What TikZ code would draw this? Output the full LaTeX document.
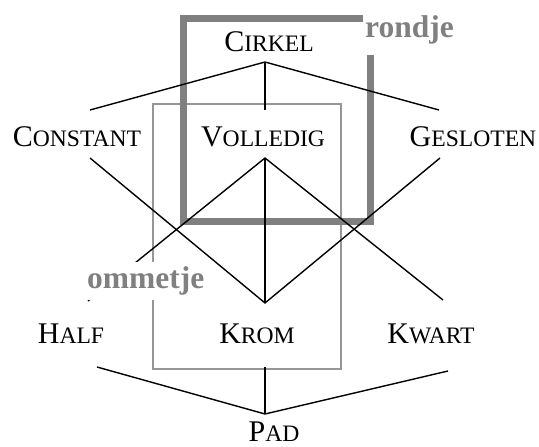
\documentclass[tikz,border=0pt]{standalone}
\usepackage{fontspec}
\setmainfont{Liberation Serif}
\definecolor{boxgray}{RGB}{128,128,128}
\definecolor{thingray}{RGB}{150,150,150}
\newcommand{\fakesc}[2]{{\fontsize{30}{30}\selectfont #1\fontsize{23.6}{23.6}\selectfont #2}}
\tikzset{
  word/.style={anchor=base, inner sep=0pt},
  link/.style={black, line width=1.4pt},
  lbl/.style={fill=white, text=boxgray, font=\fontsize{31.5}{31.5}\selectfont\bfseries, inner xsep=2pt, inner ysep=0pt, anchor=west},
  thickbox/.style={boxgray, line width=7pt},
  thinbox/.style={thingray, line width=2pt}
}
\begin{document}
\begin{tikzpicture}[x=1pt,y=-1pt]
\useasboundingbox (0,0) rectangle (539,447);
% words
\node[word] (cirkel) at (269,52) {\fakesc{C}{IRKEL}};
\node[word] (constant) at (77,146) {\fakesc{C}{ONSTANT}};
\node[word] (volledig) at (263,146) {\fakesc{V}{OLLEDIG}};
\node[word] (gesloten) at (473,146) {\fakesc{G}{ESLOTEN}};
\node[word] (half) at (71,343) {\fakesc{H}{ALF}};
\node[word] (krom) at (257,343) {\fakesc{K}{ROM}};
\node[word] (kwart) at (431,343) {\fakesc{K}{WART}};
\node[word] (pad) at (274,441) {\fakesc{P}{AD}};
% line ends
\coordinate (cirkel-s) at (265,62);
\coordinate (constant-n) at (90,110);
\coordinate (volledig-n) at (265,110);
\coordinate (gesloten-n) at (439,110);
\coordinate (constant-s) at (90,158);
\coordinate (volledig-s) at (265,158);
\coordinate (gesloten-s) at (440,158);
\coordinate (half-n) at (88,301);
\coordinate (krom-n) at (265,303);
\coordinate (kwart-n) at (443,300);
\coordinate (half-s) at (97,367);
\coordinate (krom-s) at (265,367);
\coordinate (kwart-s) at (448,371);
\coordinate (pad-n) at (265,414);
% gray boxes
\draw[thinbox] (153,104) rectangle (341,369);
\draw[thickbox] (183.5,18) rectangle (370.5,221);
% connectors
\draw[link] (constant-n) -- (cirkel-s) -- (gesloten-n);
\draw[link] (cirkel-s) -- (volledig-n);
\draw[link] (constant-s) -- (krom-n) -- (gesloten-s);
\draw[link] (half-n) -- (volledig-s) -- (kwart-n);
\draw[link] (volledig-s) -- (krom-n);
\draw[link] (half-s) -- (pad-n) -- (kwart-s);
\draw[link] (pad-n) -- (krom-s);
% labels
\node[lbl, minimum height=50pt] (rondje) at (363,30) {rondje};
\node[lbl, minimum height=38pt] (ommetje) at (85,281) {ommetje};
\end{tikzpicture}
\end{document}
